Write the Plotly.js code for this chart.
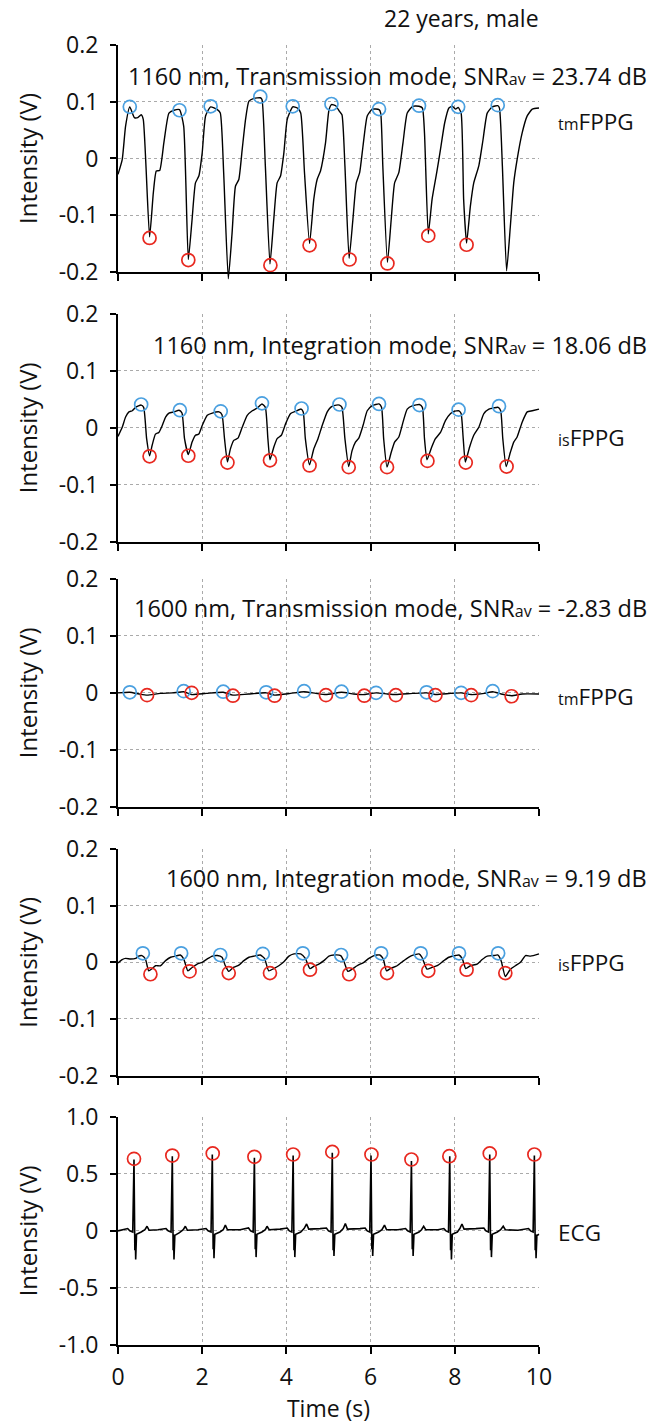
<!DOCTYPE html>
<html><head><meta charset="utf-8">
<script src="https://cdn.plot.ly/plotly-3.0.1.min.js"></script>
<style>html,body{margin:0;padding:0;background:#fff}</style>
</head><body><div id="chart" style="width:649px;height:1424px"></div>
<script>
// ---------- Panel 1: 1160 nm, transmission mode (tmFPPG) ----------
const t1 = [0, 0.1, 0.18, 0.28, 0.39, 0.47, 0.55, 0.6, 0.75, 0.84,
  0.91, 0.99, 1.09, 1.21, 1.33, 1.46, 1.56, 1.67, 1.76, 1.84,
  1.92, 2.0, 2.08, 2.2, 2.36, 2.43, 2.51, 2.62, 2.71, 2.79,
  2.87, 2.95, 3.03, 3.11, 3.23, 3.38, 3.42, 3.5, 3.61, 3.7,
  3.78, 3.86, 3.94, 4.02, 4.15, 4.26, 4.34, 4.43, 4.55, 4.65,
  4.73, 4.81, 4.93, 5.01, 5.07, 5.17, 5.26, 5.32, 5.39, 5.49,
  5.58, 5.66, 5.74, 5.82, 5.92, 6.04, 6.2, 6.24, 6.29, 6.4,
  6.49, 6.57, 6.67, 6.77, 6.87, 7.0, 7.15, 7.23, 7.28, 7.37,
  7.46, 7.57, 7.66, 7.76, 7.86, 7.94, 8.02, 8.08, 8.15, 8.21,
  8.28, 8.37, 8.45, 8.57, 8.67, 8.77, 8.89, 9.02, 9.06, 9.13,
  9.23, 9.32, 9.4, 9.48, 9.6, 9.72, 9.84, 10.0];
const v1 = [-0.028, -0.002, 0.057, 0.091, 0.072, 0.072, 0.077, 0.069, -0.138, -0.06,
  -0.022, -0.021, 0.028, 0.08, 0.085, 0.086, 0.057, -0.178, -0.107, -0.043,
  -0.031, 0.01, 0.075, 0.091, 0.086, 0.08, -0.025, -0.212, -0.131, -0.049,
  -0.037, 0.016, 0.069, 0.101, 0.106, 0.107, 0.104, -0.013, -0.186, -0.107,
  -0.043, -0.031, 0.01, 0.069, 0.091, 0.089, 0.08, -0.025, -0.15, -0.072,
  -0.037, -0.022, 0.028, 0.085, 0.095, 0.093, 0.083, 0.077, -0.013, -0.176,
  -0.107, -0.043, -0.025, 0.022, 0.075, 0.087, 0.086, 0.08, -0.013, -0.183,
  -0.107, -0.043, -0.025, 0.028, 0.08, 0.092, 0.092, 0.089, 0.045, -0.133,
  -0.072, -0.025, 0.016, 0.063, 0.089, 0.092, 0.087, 0.09, 0.08, -0.072,
  -0.149, -0.084, -0.043, -0.013, 0.033, 0.08, 0.091, 0.093, 0.089, -0.013,
  -0.198, -0.119, -0.043, -0.002, 0.045, 0.075, 0.087, 0.089];
const peakT1 = [0.28, 1.46, 2.2, 3.38, 4.15, 5.07, 6.2, 7.15, 8.08, 9.02];
const peakV1 = [0.091, 0.085, 0.092, 0.109, 0.092, 0.096, 0.087, 0.093, 0.091, 0.094];
const valleyT1 = [0.75, 1.67, 2.63, 3.62, 4.55, 5.5, 6.4, 7.37, 8.28, 9.23];
const valleyV1 = [-0.14, -0.179, -0.216, -0.188, -0.153, -0.178, -0.185, -0.136, -0.152, -0.202];

// ---------- Panel 2: 1160 nm, integration mode (isFPPG) ----------
const t2 = [0, 0.1, 0.18, 0.26, 0.34, 0.42, 0.55, 0.61, 0.68, 0.75,
  0.81, 0.89, 0.97, 1.05, 1.13, 1.21, 1.33, 1.45, 1.52, 1.58,
  1.67, 1.76, 1.84, 1.92, 2.0, 2.12, 2.24, 2.4, 2.47, 2.53,
  2.6, 2.67, 2.75, 2.85, 2.95, 3.07, 3.19, 3.31, 3.42, 3.5,
  3.56, 3.61, 3.7, 3.78, 3.88, 3.98, 4.1, 4.22, 4.35, 4.4,
  4.45, 4.55, 4.65, 4.75, 4.85, 4.97, 5.05, 5.13, 5.26, 5.32,
  5.39, 5.48, 5.56, 5.64, 5.72, 5.82, 5.92, 6.04, 6.2, 6.26,
  6.31, 6.39, 6.49, 6.57, 6.67, 6.77, 6.87, 7.0, 7.16, 7.23,
  7.28, 7.34, 7.45, 7.54, 7.66, 7.78, 7.9, 7.98, 8.1, 8.15,
  8.2, 8.25, 8.35, 8.45, 8.57, 8.69, 8.81, 8.93, 9.03, 9.09,
  9.14, 9.22, 9.32, 9.4, 9.48, 9.6, 9.72, 9.84, 10.0];
const v2 = [-0.015, 0.001, 0.019, 0.028, 0.03, 0.036, 0.04, 0.036, -0.019, -0.049,
  -0.031, -0.011, -0.008, 0.004, 0.019, 0.026, 0.028, 0.031, 0.026, -0.019,
  -0.047, -0.025, -0.013, -0.011, 0.004, 0.022, 0.026, 0.028, 0.023, -0.019,
  -0.06, -0.037, -0.022, -0.018, 0.001, 0.022, 0.03, 0.035, 0.042, 0.036,
  -0.019, -0.056, -0.034, -0.019, -0.013, 0.007, 0.025, 0.029, 0.033, 0.028,
  -0.019, -0.065, -0.037, -0.019, 0.004, 0.028, 0.036, 0.039, 0.04, 0.036,
  -0.019, -0.068, -0.04, -0.025, -0.018, 0.004, 0.03, 0.039, 0.042, 0.036,
  -0.019, -0.069, -0.043, -0.025, -0.016, 0.01, 0.033, 0.039, 0.041, 0.036,
  -0.019, -0.056, -0.034, -0.019, -0.008, 0.013, 0.025, 0.029, 0.03, 0.025,
  -0.019, -0.06, -0.034, -0.013, 0.001, 0.025, 0.033, 0.035, 0.036, 0.03,
  -0.019, -0.068, -0.043, -0.025, -0.016, 0.01, 0.028, 0.03, 0.033];
const peakT2 = [0.55, 1.47, 2.44, 3.42, 4.36, 5.26, 6.2, 7.16, 8.09, 9.05];
const peakV2 = [0.041, 0.031, 0.029, 0.043, 0.034, 0.041, 0.042, 0.04, 0.032, 0.038];
const valleyT2 = [0.75, 1.67, 2.6, 3.61, 4.55, 5.48, 6.39, 7.35, 8.26, 9.23];
const valleyV2 = [-0.05, -0.049, -0.061, -0.057, -0.066, -0.069, -0.069, -0.058, -0.061, -0.068];

// ---------- Panel 3: 1600 nm, transmission mode (tmFPPG) ----------
const t3 = [0, 0.28, 0.5, 0.69, 1.0, 1.3, 1.56, 1.75, 2.1, 2.5,
  2.73, 3.1, 3.52, 3.72, 4.1, 4.42, 4.7, 4.94, 5.31, 5.6,
  5.85, 6.13, 6.4, 6.6, 7.0, 7.33, 7.54, 7.9, 8.15, 8.39,
  8.7, 8.9, 9.1, 9.35, 9.6, 10.0];
const v3 = [0, 0.001, -0.002, -0.004, -0.001, 0, 0.002, -0.003, -0.001, 0.001,
  -0.004, -0.002, 0, -0.004, -0.001, 0.002, -0.001, -0.003, 0.001, -0.002,
  -0.003, 0, -0.002, -0.003, -0.001, 0, -0.003, -0.001, 0, -0.003,
  -0.001, 0.002, -0.002, -0.005, -0.002, -0.002];
const peakT3 = [0.28, 1.56, 2.5, 3.52, 4.42, 5.31, 6.13, 7.33, 8.15, 8.9];
const peakV3 = [0.001, 0.003, 0.002, 0.001, 0.003, 0.002, 0.0, 0.001, 0.0, 0.003];
const valleyT3 = [0.69, 1.75, 2.73, 3.72, 4.94, 5.85, 6.6, 7.54, 8.39, 9.35];
const valleyV3 = [-0.004, 0.0, -0.005, -0.005, -0.004, -0.005, -0.004, -0.004, -0.004, -0.006];

// ---------- Panel 4: 1600 nm, integration mode (isFPPG) ----------
const t4 = [0, 0.1, 0.18, 0.3, 0.42, 0.49, 0.57, 0.65, 0.73, 0.81,
  0.89, 1.01, 1.13, 1.25, 1.37, 1.48, 1.56, 1.66, 1.76, 1.88,
  2.0, 2.12, 2.24, 2.36, 2.47, 2.55, 2.63, 2.74, 2.87, 2.99,
  3.11, 3.23, 3.38, 3.48, 3.58, 3.7, 3.82, 3.94, 4.06, 4.18,
  4.34, 4.45, 4.56, 4.65, 4.77, 4.89, 5.01, 5.13, 5.29, 5.36,
  5.46, 5.56, 5.68, 5.84, 5.96, 6.08, 6.22, 6.3, 6.38, 6.47,
  6.63, 6.79, 6.95, 7.15, 7.22, 7.34, 7.46, 7.58, 7.74, 7.86,
  8.02, 8.1, 8.18, 8.26, 8.37, 8.53, 8.65, 8.77, 8.93, 9.02,
  9.1, 9.2, 9.32, 9.44, 9.56, 9.68, 9.8, 10.0];
const v4 = [-0.001, 0.005, 0.007, 0.006, 0.007, 0.011, 0.012, 0.006, -0.015, -0.011,
  -0.006, -0.006, 0.003, 0.009, 0.011, 0.013, 0.006, -0.015, -0.009, -0.003,
  0, 0.006, 0.011, 0.012, 0.009, -0.006, -0.016, -0.009, -0.005, 0.003,
  0.009, 0.011, 0.013, 0.007, -0.015, -0.011, -0.006, 0.001, 0.011, 0.015,
  0.015, 0.007, -0.011, -0.007, -0.003, 0.003, 0.011, 0.013, 0.012, 0.003,
  -0.016, -0.012, -0.006, 0, 0.007, 0.012, 0.013, 0.006, -0.015, -0.011,
  -0.006, 0.003, 0.011, 0.015, 0.009, -0.012, -0.009, -0.006, 0.003, 0.009,
  0.012, 0.013, 0.006, -0.011, -0.006, -0.003, 0.005, 0.011, 0.012, 0.013,
  0.003, -0.025, -0.012, -0.006, 0, 0.012, 0.011, 0.015];
const peakT4 = [0.59, 1.5, 2.43, 3.44, 4.39, 5.3, 6.25, 7.19, 8.1, 9.03];
const peakV4 = [0.016, 0.016, 0.013, 0.015, 0.016, 0.013, 0.016, 0.016, 0.016, 0.016];
const valleyT4 = [0.77, 1.7, 2.63, 3.61, 4.56, 5.49, 6.39, 7.37, 8.28, 9.2];
const valleyV4 = [-0.021, -0.016, -0.019, -0.019, -0.013, -0.021, -0.019, -0.015, -0.013, -0.019];

// ---------- Panel 5: ECG ----------
const t5 = [0, 0.23, 0.28, 0.35, 0.38, 0.4, 0.41, 0.42, 0.44, 0.55, 0.64, 0.69, 0.74, 0.95,
  1.14, 1.19, 1.26, 1.29, 1.31, 1.32, 1.33, 1.35, 1.46, 1.55, 1.6, 1.65, 1.9,
  2.09, 2.14, 2.21, 2.24, 2.26, 2.27, 2.28, 2.3, 2.42, 2.5, 2.55, 2.6, 2.9,
  3.1, 3.15, 3.21, 3.24, 3.26, 3.27, 3.28, 3.3, 3.42, 3.5, 3.54, 3.59, 3.85,
  4.02, 4.07, 4.13, 4.16, 4.18, 4.19, 4.2, 4.22, 4.34, 4.42, 4.48, 4.53, 4.8,
  4.95, 5.0, 5.06, 5.09, 5.11, 5.12, 5.13, 5.15, 5.27, 5.35, 5.4, 5.45, 5.75,
  5.87, 5.92, 5.98, 6.01, 6.03, 6.04, 6.05, 6.07, 6.19, 6.27, 6.33, 6.38, 6.65,
  6.83, 6.88, 6.94, 6.97, 6.99, 7.0, 7.01, 7.03, 7.15, 7.21, 7.26, 7.31, 7.6,
  7.74, 7.79, 7.85, 7.88, 7.9, 7.91, 7.92, 7.94, 8.06, 8.12, 8.17, 8.22, 8.5,
  8.69, 8.74, 8.8, 8.83, 8.85, 8.86, 8.87, 8.89, 9.01, 9.09, 9.15, 9.2, 9.5,
  9.75, 9.8, 9.86, 9.89, 9.91, 9.92, 9.93, 9.95, 10.0];
const v5 = [0, 0.02, 0, -0.01, 0.625, -0.17, -0.03, -0.25, -0.03, -0.01, 0.01, 0.04, 0.005, 0.01,
  0.02, 0, -0.01, 0.654, -0.17, -0.03, -0.25, -0.04, -0.015, 0.01, 0.04, 0.005, 0.01,
  0.02, 0, -0.01, 0.669, -0.16, -0.03, -0.24, -0.03, -0.01, 0.01, 0.05, 0.01, 0.01,
  0.025, 0, -0.01, 0.64, -0.16, -0.03, -0.23, -0.03, -0.01, 0.01, 0.04, 0.01, 0.015,
  0.025, 0, -0.01, 0.66, -0.17, -0.03, -0.23, -0.03, -0.01, 0.02, 0.06, 0.015, 0.02,
  0.025, 0, -0.01, 0.684, -0.17, -0.03, -0.22, -0.03, -0.01, 0.02, 0.065, 0.015, 0.02,
  0.025, 0, -0.01, 0.66, -0.16, -0.03, -0.22, -0.03, -0.01, 0.01, 0.05, 0.01, 0.01,
  0.02, 0, -0.01, 0.611, -0.16, -0.03, -0.22, -0.03, -0.01, 0.01, 0.04, 0.01, 0.01,
  0.02, 0, -0.01, 0.654, -0.17, -0.03, -0.25, -0.03, -0.01, 0.02, 0.06, 0.015, 0.02,
  0.025, 0, -0.01, 0.669, -0.17, -0.03, -0.23, -0.03, -0.01, 0.01, 0.04, 0.01, 0.005,
  0.02, 0, -0.01, 0.66, -0.17, -0.03, -0.24, -0.04, -0.03];
const rT5 = [0.38, 1.29, 2.25, 3.24, 4.16, 5.09, 6.02, 6.97, 7.87, 8.83, 9.89];
const rV5 = [0.631, 0.66, 0.678, 0.649, 0.669, 0.692, 0.669, 0.625, 0.654, 0.678, 0.669];

// ---------- Ticks and labels ----------
const xTicks = [0, 2, 4, 6, 8, 10];
const xTickText = ['0', '2', '4', '6', '8', '10'];
const ppgTicks = [-0.2, -0.1, 0, 0.1, 0.2];
const ppgTickText = ['-0.2', '-0.1', '0', '0.1', '0.2'];
const ecgTicks = [-1, -0.5, 0, 0.5, 1];
const ecgTickText = ['-1.0', '-0.5', '0', '0.5', '1.0'];
const panelTitles = [
  '1160 nm, Transmission mode, SNR<span style="font-size:16px">av</span> = 23.74 dB',
  '1160 nm, Integration mode, SNR<span style="font-size:16px">av</span> = 18.06 dB',
  '1600 nm, Transmission mode, SNR<span style="font-size:16px">av</span> = -2.83 dB',
  '1600 nm, Integration mode, SNR<span style="font-size:16px">av</span> = 9.19 dB'
];
const signalLabels = [
  '<span style="font-size:16px">tm</span>FPPG',
  '<span style="font-size:16px">is</span>FPPG',
  '<span style="font-size:16px">tm</span>FPPG',
  '<span style="font-size:16px">is</span>FPPG',
  'ECG'
];
const subjectLabel = '22 years, male';

// ---------- Build ----------
const FONT = 'Open Sans, Lato, sans-serif';
const BLUE = '#4aa0e0';
const RED = '#e8281f';
const series = [
  {t: t1, v: v1, pt: peakT1, pv: peakV1, vt: valleyT1, vv: valleyV1},
  {t: t2, v: v2, pt: peakT2, pv: peakV2, vt: valleyT2, vv: valleyV2},
  {t: t3, v: v3, pt: peakT3, pv: peakV3, vt: valleyT3, vv: valleyV3},
  {t: t4, v: v4, pt: peakT4, pv: peakV4, vt: valleyT4, vv: valleyV4},
  {t: t5, v: v5, pt: null, pv: null, vt: rT5, vv: rV5}
];
const domains = [[0.8254, 1.0], [0.6179, 0.7931], [0.4141, 0.5892], [0.2072, 0.3815], [0, 0.1756]];
const titleY = [0.9762, 0.7692, 0.5669, 0.3592];
const labelY = [0.9408, 0.6977, 0.4985, 0.2946, 0.0862];

const traces = [];
const layout = {
  width: 649, height: 1424,
  margin: {l: 117.5, r: 109.5, t: 45, b: 79},
  paper_bgcolor: '#fff', plot_bgcolor: '#fff',
  showlegend: false,
  font: {family: FONT, color: '#111', size: 21},
  annotations: [],
};
series.forEach((s, i) => {
  const k = i === 0 ? '' : String(i + 1);
  const xa = 'x' + k, ya = 'y' + k;
  const isLast = i === 4;
  traces.push({x: s.t, y: s.v, xaxis: xa, yaxis: ya, type: 'scatter', mode: 'lines',
    cliponaxis: false,
    line: isLast ? {color: '#000', width: 1.6} : {color: '#000', width: 1.4, shape: 'spline', smoothing: 0.5},
    hoverinfo: 'skip'});
  if (s.pt) traces.push({x: s.pt, y: s.pv, xaxis: xa, yaxis: ya, type: 'scatter', mode: 'markers',
    cliponaxis: false,
    marker: {symbol: 'circle-open', size: 13, color: BLUE, line: {width: 1.7, color: BLUE}}});
  traces.push({x: s.vt, y: s.vv, xaxis: xa, yaxis: ya, type: 'scatter', mode: 'markers',
    cliponaxis: false,
    marker: {symbol: 'circle-open', size: 13, color: RED, line: {width: 1.7, color: RED}}});
  layout['xaxis' + k] = {
    domain: [0, 1], anchor: ya, range: [0, 10], matches: i === 0 ? undefined : 'x',
    tickvals: xTicks, ticktext: xTickText, showticklabels: isLast,
    ticks: 'outside', ticklen: 7, tickwidth: 2, tickcolor: '#000', ticklabelstandoff: 3,
    showline: true, linecolor: '#000', linewidth: 2,
    showgrid: true, gridcolor: '#aaa', gridwidth: 1, griddash: 'dot',
    zeroline: false, tickfont: {size: 23, family: FONT, color: '#111'},
    title: isLast ? {text: 'Time (s)', font: {size: 23, family: FONT, color: '#111'}, standoff: 10} : undefined
  };
  layout['yaxis' + k] = {
    domain: domains[i], anchor: xa, range: isLast ? [-1, 1] : [-0.2, 0.2],
    tickvals: isLast ? ecgTicks : ppgTicks, ticktext: isLast ? ecgTickText : ppgTickText,
    ticks: 'outside', ticklen: 6, tickwidth: 2, tickcolor: '#000', ticklabelstandoff: 7,
    showline: true, linecolor: '#000', linewidth: 2,
    showgrid: true, gridcolor: '#aaa', gridwidth: 1, griddash: 'dot',
    zeroline: false, tickfont: {size: 23, family: FONT, color: '#111'},
    title: {text: 'Intensity (V)', font: {size: 24, family: FONT, color: '#111'}, standoff: 14}
  };
  if (i < 4) layout.annotations.push({xref: 'paper', yref: 'paper', x: 1.2615, y: titleY[i],
    xanchor: 'right', yanchor: 'middle', showarrow: false, text: panelTitles[i],
    font: {size: 23.5, family: FONT, color: '#111'}});
  layout.annotations.push({xref: 'paper', yref: 'paper', x: 1.0415, y: labelY[i],
    xanchor: 'left', yanchor: 'middle', showarrow: false, text: signalLabels[i],
    font: {size: 22.5, family: FONT, color: '#111'}});
});
layout.annotations.push({xref: 'paper', yref: 'paper', x: 1.0036, y: 1.0208,
  xanchor: 'right', yanchor: 'middle', showarrow: false, text: subjectLabel,
  font: {size: 23, family: FONT, color: '#111'}});

Plotly.newPlot('chart', traces, layout, {staticPlot: true, displayModeBar: false}).then(() => {
  // let the deepest waveform troughs run slightly past the bottom axis, as in the original
  document.querySelectorAll('#chart .cartesianlayer [clip-path]')
    .forEach(el => el.removeAttribute('clip-path'));
});
</script></body></html>
